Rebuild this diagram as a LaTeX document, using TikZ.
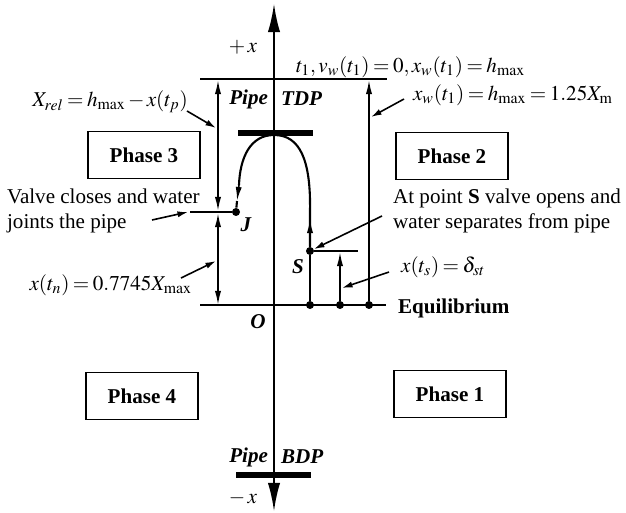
\documentclass[tikz,border=0pt]{standalone}
\usepackage{mathptmx}
\usepackage{fontspec}
\setmainfont{Liberation Serif}
\usetikzlibrary{arrows.meta}
\newcommand{\labelsize}{\fontsize{12}{14}\selectfont}

\begin{document}
\begin{tikzpicture}[x=0.02cm,y=-0.02cm,
    every node/.style={font=\labelsize,inner sep=1pt},
    axisline/.style={line width=1pt,{Latex[length=16pt,width=7pt]}-{Latex[length=16pt,width=7pt]}},
    dimline/.style={line width=0.9pt,{Latex[length=8pt,width=3.5pt]}-{Latex[length=8pt,width=3.5pt]}},
    uparrow/.style={line width=0.9pt,-{Latex[length=8pt,width=3.5pt]}},
    notearrow/.style={line width=0.9pt,-{Latex[length=6pt,width=3.5pt]}},
    pipebar/.style={line width=3pt},
    phasebox/.style={draw,line width=0.9pt,minimum width=2.24cm,minimum height=0.94cm,font=\labelsize\bfseries},
    pt/.style={circle,fill,inner sep=0pt,minimum size=0.16cm},
    bilbl/.style={font=\labelsize\bfseries\itshape},
    mathlbl/.style={execute at begin node={\thickmuskip=3mu\medmuskip=2mu}}]
  \useasboundingbox (0,0) rectangle (626,513);

  % axis and reference lines
  \coordinate (axtop) at (274,4);
  \coordinate (axbot) at (274,511);
  \draw[axisline] (axbot) -- (axtop);
  \coordinate (tl) at (200,79);
  \coordinate (tr) at (387,79);
  \draw[line width=1.2pt] (tl) -- (tr);
  \coordinate (el) at (200,305);
  \coordinate (er) at (386,305);
  \draw[line width=1.2pt] (el) -- (er);

  % pipe at top and bottom dead points
  \coordinate (tdpL) at (238,133);
  \coordinate (tdpR) at (313,133);
  \draw[pipebar] (tdpL) -- (tdpR);
  \coordinate (bdpL) at (236,475);
  \coordinate (bdpR) at (311,475);
  \draw[pipebar] (bdpL) -- (bdpR);

  % points
  \node[pt] (S) at (310,251) {};
  \node[pt] (J) at (236,212) {};
  \node[pt] (E1) at (310,305) {};
  \node[pt] (E2) at (340,305) {};
  \node[pt] (E3) at (369,305) {};

  % water path
  \coordinate (sUp) at (310,219);
  \coordinate (jUp) at (239,185);
  \coordinate (jTip) at (237,201);
  \draw[line width=1.2pt] (S) -- (310,212) .. controls (311,160) and (300,135) .. (274,135)
    .. controls (250,135) and (240,158) .. (jUp);
  \draw[uparrow] (S) -- (sUp);
  \draw[uparrow] (jUp) -- (jTip);
  \draw[line width=1.2pt] (jTip) -- (J);
  \draw[line width=1.2pt] (S) -- (E1);

  % dimension lines
  \coordinate (sR) at (358,251);
  \draw[line width=0.9pt] (S) -- (sR);
  \coordinate (sTip) at (340,252);
  \draw[uparrow] (E2) -- (sTip);
  \coordinate (hTip) at (369,80);
  \draw[uparrow] (E3) -- (hTip);
  \coordinate (dT) at (218,80);
  \coordinate (dJa) at (218,211);
  \coordinate (dJb) at (218,213);
  \coordinate (dO) at (218,305);
  \draw[dimline] (dT) -- (dJa);
  \draw[dimline] (dJb) -- (dO);
  \coordinate (jL) at (190,212);
  \draw[line width=0.9pt] (jL) -- (J);

  % labels
  \node (plusx) at (243,47) {$+\,x$};
  \node[mathlbl,anchor=south west] (tone) at (294,80) {$t_1, v_w(t_1)=0, x_w(t_1)=h_{\max}$};
  \node[bilbl,anchor=east] (pipeT) at (270,99) {Pipe};
  \node[bilbl,anchor=west] (tdp) at (279,99) {TDP};
  \node[bilbl,anchor=east] (pipeB) at (270,457) {Pipe};
  \node[bilbl,anchor=west] (bdp) at (279,457) {BDP};
  \node (minusx) at (243,498) {$-\,x$};
  \node[bilbl] (lblO) at (258,322) {O};
  \node[bilbl] (lblJ) at (246,225) {J};
  \node[bilbl] (lblS) at (298,267) {S};

  \node[mathlbl,anchor=east] (xrel) at (190,102) {$X_{rel}=h_{\max}-x(t_p)$};
  \node[mathlbl,anchor=west] (xw) at (411,95) {$x_w(t_1)=h_{\max}=1.25X_{\mathrm{m}}$};
  \node[anchor=west,align=left] (valve) at (5,211) {Valve closes and water\\joints the pipe};
  \node[anchor=west,align=left] (atS) at (391,211) {At point \textbf{S} valve opens and\\water separates from pipe};
  \node[mathlbl,anchor=east] (xtn) at (194,285) {$x(t_n)=0.7745X_{\max}$};
  \node[mathlbl,anchor=west] (xts) at (399,267) {$x(t_s)=\delta_{st}$};
  \node[anchor=west,font=\labelsize\bfseries] (equil) at (396,308) {Equilibrium};

  \node[phasebox] (ph3) at (144,155) {Phase 3};
  \node[phasebox] (ph2) at (452,156) {Phase 2};
  \node[phasebox] (ph4) at (142,396) {Phase 4};
  \node[phasebox] (ph1) at (450,394) {Phase 1};

  % annotation arrows
  \coordinate (xrelFrom) at (187,111);
  \coordinate (xrelTip) at (216,128);
  \draw[notearrow] (xrelFrom) -- (xrelTip);
  \coordinate (xwFrom) at (404,99);
  \coordinate (xwTip) at (371,117);
  \draw[notearrow] (xwFrom) -- (xwTip);
  \coordinate (valveFrom) at (152,220);
  \coordinate (valveTip) at (188,212);
  \draw[notearrow] (valveFrom) -- (valveTip);
  \coordinate (atSFrom) at (382,216);
  \draw[notearrow] (atSFrom) -- (S);
  \coordinate (xtnFrom) at (181,278);
  \coordinate (xtnTip) at (216,261);
  \draw[notearrow] (xtnFrom) -- (xtnTip);
  \coordinate (xtsFrom) at (389,272);
  \coordinate (xtsTip) at (342,288);
  \draw[notearrow] (xtsFrom) -- (xtsTip);
\end{tikzpicture}
\end{document}
